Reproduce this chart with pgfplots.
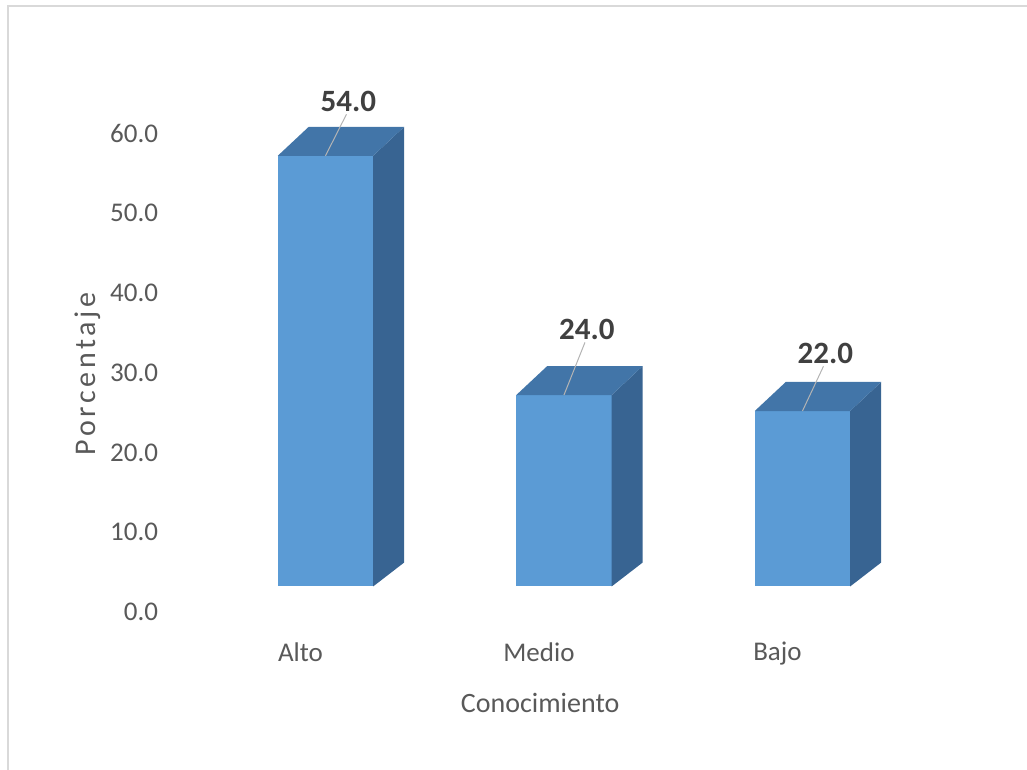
\documentclass[border=0pt]{standalone}
\usepackage{fontspec}
\setmainfont{Carlito}
\newfontfamily\labelfont[LetterSpace=12]{Carlito}
\usepackage{pgfplots}
\usepackage{pgfplotstable}
\pgfplotsset{compat=1.18}
\definecolor{frontc}{HTML}{5B9BD5}
\definecolor{topc}{HTML}{4275A8}
\definecolor{sidec}{HTML}{386492}
\definecolor{txt}{HTML}{595959}
\definecolor{lbl}{HTML}{404040}
\definecolor{framec}{HTML}{D9D9D9}
\definecolor{lead}{HTML}{B4B4B4}

% v = value; off = height of the data label above the value (as placed in the chart)
\pgfplotstableread{
x v off
0 54.0 8.8
1 24.0 10.2
2 22.0 9.2
}\datatable

\newcommand\base{3.2}
\newcommand\hw{0.2}
\newcommand\dx{0.13}
\newcommand\dyt{3.64}
\newcommand\dyb{3.0}

\begin{document}
\begin{tikzpicture}
\useasboundingbox (0,0) rectangle (513.5pt,385pt);
\draw[framec, line width=1pt] (4pt,0pt) -- (4pt,382pt) -- (513.5pt,382pt);
\begin{axis}[
  at={(79.25pt,67.05pt)}, anchor=south west,
  x=119.25pt, y=3.9875pt,
  xmin=-0.7, xmax=2.6, ymin=-3, ymax=66,
  axis line style={draw=none},
  major tick length=0pt,
  ytick={0,10,...,60},
  xtick={0,1,2},
  xticklabels={Alto,Medio,Bajo},
  yticklabel style={/pgf/number format/fixed, /pgf/number format/fixed zerofill,
    /pgf/number format/precision=1, /pgf/number format/assume math mode=true,
    font=\fontsize{13.5}{16}\selectfont, text=txt, inner sep=0pt, anchor=east},
  xticklabel style={font=\fontsize{13.5}{16}\selectfont, text=txt, inner sep=0pt,
    anchor=north, yshift=-3pt, xshift=-12.5pt},
  xlabel={Conocimiento},
  ylabel={Porcentaje},
  every axis x label/.style={at={(axis description cs:0.485,-0.122)}, anchor=center,
    font=\fontsize{14}{16}\selectfont, text=txt},
  every axis y label/.style={at={(axis description cs:-0.0897,0.476)}, anchor=center,
    rotate=90, font=\labelfont\fontsize{15}{17}\selectfont, text=txt},
  clip=false,
]
% front, side and top faces of each bar, from its value (floor at \base)
\pgfplotsinvokeforeach{0,1,2}{
  \pgfplotstablegetelem{#1}{v}\of\datatable
  \pgfmathsetmacro\yt{\pgfplotsretval+\base}
  \pgfmathsetmacro\ytt{\yt+\dyt}
  \pgfmathsetmacro\ybb{\base+\dyb}
  \pgfmathsetmacro\xl{#1-\hw}
  \pgfmathsetmacro\xr{#1+\hw}
  \pgfmathsetmacro\xll{#1-\hw+\dx}
  \pgfmathsetmacro\xrr{#1+\hw+\dx}
  \edef\tmp{%
    \noexpand\addplot[sharp plot, fill=frontc, draw=none, mark=none]
      coordinates {(\xl,\base) (\xr,\base) (\xr,\yt) (\xl,\yt)};
    \noexpand\addplot[sharp plot, fill=sidec, draw=none, mark=none]
      coordinates {(\xr,\base) (\xr,\yt) (\xrr,\ytt) (\xrr,\ybb)};
    \noexpand\addplot[sharp plot, fill=topc, draw=none, mark=none]
      coordinates {(\xl,\yt) (\xr,\yt) (\xrr,\ytt) (\xll,\ytt)};
  }%
  \tmp
}

% leader lines from the bar top to its label
\addplot[quiver={u=0.088, v=\thisrow{off}-\base-0.4}, draw=lead, fill=none,
  line width=0.5pt, -] table[x=x, y expr=\thisrow{v}+\base] \datatable;

% data labels
\addplot[sharp plot, draw=none, fill=none, mark=none,
  point meta=explicit,
  nodes near coords={\pgfmathprintnumber[fixed,fixed zerofill,precision=1,assume math mode=true]{\pgfplotspointmeta}},
  every node near coord/.style={anchor=base, inner sep=0pt,
    font=\bfseries\fontsize{15.5}{18}\selectfont, text=lbl}]
  table[x expr=\thisrow{x}+0.096, y expr=\thisrow{v}+\thisrow{off}, meta=v] \datatable;
\end{axis}
\end{tikzpicture}
\end{document}
